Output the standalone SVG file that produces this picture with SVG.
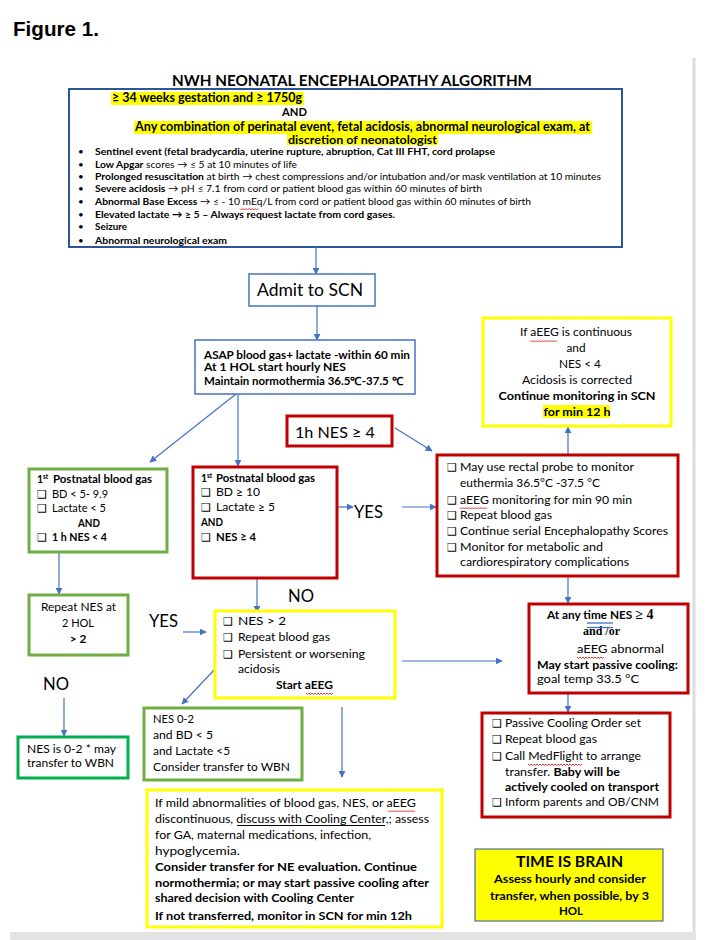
<svg xmlns="http://www.w3.org/2000/svg" width="712" height="940" viewBox="0 0 712 940">
<style>
text{font-family:Lato,'Liberation Sans',sans-serif;fill:#000}
.b{font-weight:bold}
.ar{font-family:'Liberation Sans',Arial,sans-serif}
.se{font-family:'Liberation Serif',serif}
.cb{font-family:'DejaVu Sans',sans-serif;font-size:11px;font-weight:bold}
.conn{stroke:#4472C4;stroke-width:1.2;fill:none;marker-end:url(#ah)}
.sq{stroke:#e02020;stroke-width:0.9;fill:none}
.blue{fill:#fff;stroke:#2F5597;stroke-width:2}
.lb{fill:#fff;stroke:#4472C4;stroke-width:1.5}
.red{fill:#fff;stroke:#C00000;stroke-width:3}
.grn{fill:#fff;stroke:#70AD47;stroke-width:3}
.grn2{fill:#fff;stroke:#00B050;stroke-width:3}
.yel{fill:#fff;stroke:#FFFF00;stroke-width:3}
.hl{fill:#FFFF00}
</style>
<defs>
<marker id="ah" viewBox="0 0 10 10" refX="9" refY="5" markerWidth="7" markerHeight="7" markerUnits="userSpaceOnUse" orient="auto"><path d="M0,0 L10,5 L0,10 z" fill="#4472C4"/></marker>
</defs>
<rect width="712" height="940" fill="#fff"/>
<g id="page-frame">
<rect x="692.5" y="58" width="3" height="876" fill="#dcdcdc"/>
<rect x="10" y="932" width="686" height="8" fill="#e3e3e3"/>
</g>
<text class="ar b" x="13" y="36" font-size="20" textLength="86" lengthAdjust="spacingAndGlyphs">Figure 1.</text>
<text class="b" x="172" y="85.5" font-size="14.5" textLength="360" lengthAdjust="spacingAndGlyphs">NWH NEONATAL ENCEPHALOPATHY ALGORITHM</text>

<g id="criteria">
<rect class="blue" x="69" y="89" width="553" height="158"/>
<rect class="hl" x="111" y="92" width="193" height="13"/>
<rect class="hl" x="134" y="121" width="458" height="13"/>
<rect class="hl" x="287" y="134" width="151" height="11"/>
<text class="b" x="112" y="102" font-size="12.5" textLength="190" lengthAdjust="spacingAndGlyphs">≥ 34 weeks gestation  and ≥  1750g</text>
<text class="b" x="282" y="116" font-size="12" textLength="25" lengthAdjust="spacingAndGlyphs">AND</text>
<text class="b" x="135" y="131" font-size="12.5" textLength="455" lengthAdjust="spacingAndGlyphs">Any combination of perinatal event, fetal acidosis, abnormal neurological exam, at</text>
<text class="b" x="288" y="143.5" font-size="11" textLength="149" lengthAdjust="spacingAndGlyphs">discretion of neonatologist</text>
<g font-size="9.8">
<text x="78" y="155" font-size="9.8">•</text>
<text x="78" y="167.5" font-size="9.8">•</text>
<text x="78" y="180" font-size="9.8">•</text>
<text x="78" y="192" font-size="9.8">•</text>
<text x="78" y="205" font-size="9.8">•</text>
<text x="78" y="218" font-size="9.8">•</text>
<text x="78" y="229.5" font-size="9.8">•</text>
<text x="78" y="244" font-size="9.8">•</text>
<text class="b" x="95" y="155" font-size="9.8" textLength="400" lengthAdjust="spacingAndGlyphs">Sentinel event (fetal bradycardia, uterine rupture, abruption,  Cat III FHT, cord prolapse</text>
<text x="95" y="167.5" font-size="9.8" textLength="202" lengthAdjust="spacingAndGlyphs"><tspan class="b">Low Apgar</tspan> scores → ≤ 5 at 10 minutes of life</text>
<text x="95" y="180" font-size="9.8" textLength="506" lengthAdjust="spacingAndGlyphs"><tspan class="b">Prolonged resuscitation</tspan> at birth → chest compressions and/or intubation and/or mask ventilation at 10 minutes</text>
<text x="95" y="192" font-size="9.8" textLength="387" lengthAdjust="spacingAndGlyphs"><tspan class="b">Severe acidosis</tspan> → pH ≤ 7.1 from cord  or patient blood gas  within 60 minutes of birth</text>
<text x="95" y="205" font-size="9.8" textLength="436" lengthAdjust="spacingAndGlyphs"><tspan class="b">Abnormal Base Excess</tspan> → ≤ - 10 mEq/L from cord  or patient blood gas within 60 minutes of birth</text>
<text class="b" x="95" y="218" font-size="9.8" textLength="300" lengthAdjust="spacingAndGlyphs">Elevated lactate  → ≥ 5 – Always request lactate from cord gases.</text>
<text class="b" x="95" y="229.5" font-size="9.8" textLength="32" lengthAdjust="spacingAndGlyphs">Seizure</text>
<text class="b" x="95" y="244" font-size="9.8" textLength="132" lengthAdjust="spacingAndGlyphs">Abnormal neurological exam</text>
</g>
<path class="sq" d="M240,208.5 l1.5,1.5 l1.5,-1.5 l1.5,1.5 l1.5,-1.5 l1.5,1.5 l1.5,-1.5 l1.5,1.5 l1.5,-1.5 l1.5,1.5 l1.5,-1.5 l1.5,1.5 l1.5,-1.5"/>
</g>

<g id="connectors">
<line class="conn" x1="316" y1="247" x2="316" y2="274"/>
<line class="conn" x1="317" y1="306" x2="317" y2="340"/>
<line class="conn" x1="236" y1="394" x2="150" y2="462"/>
<line class="conn" x1="238" y1="394" x2="238" y2="466"/>
<line class="conn" x1="395" y1="428" x2="432" y2="451"/>
<line class="conn" x1="328" y1="507" x2="353" y2="507"/>
<line class="conn" x1="402" y1="507" x2="436" y2="507"/>
<line class="conn" x1="568" y1="455" x2="568" y2="427"/>
<line class="conn" x1="568" y1="577" x2="568" y2="603"/>
<line class="conn" x1="59" y1="553" x2="59" y2="594"/>
<line class="conn" x1="183" y1="632" x2="206" y2="632"/>
<line class="conn" x1="257" y1="578" x2="257" y2="612"/>
<line class="conn" x1="402" y1="661" x2="502" y2="661"/>
<line class="conn" x1="215" y1="669" x2="182" y2="704"/>
<line class="conn" x1="64" y1="698" x2="64" y2="736"/>
<line class="conn" x1="342" y1="707" x2="342" y2="777"/>
<line class="conn" x1="568" y1="694" x2="568" y2="712"/>
</g>

<g id="admit">
<rect class="lb" x="249" y="274" width="126" height="32"/>
<text x="257" y="295.5" font-size="18" textLength="106" lengthAdjust="spacingAndGlyphs">Admit to SCN</text>
</g>

<g id="asap">
<rect class="lb" x="195" y="340" width="220" height="54"/>
<text class="b" x="204" y="359" font-size="11" textLength="206" lengthAdjust="spacingAndGlyphs">ASAP blood gas+ lactate -within 60 min</text>
<text class="b" x="204" y="371" font-size="11" textLength="142" lengthAdjust="spacingAndGlyphs">At 1 HOL start  hourly NES</text>
<text class="b" x="204" y="385" font-size="11" textLength="199" lengthAdjust="spacingAndGlyphs">Maintain normothermia 36.5℃-37.5 ℃</text>
</g>

<g id="continue-monitoring">
<rect class="yel" x="483" y="318" width="188" height="108"/>
<rect class="hl" x="543" y="405" width="67" height="13"/>
<g font-size="11.8" text-anchor="middle">
<text x="576" y="336" textLength="112" lengthAdjust="spacingAndGlyphs">If aEEG is continuous</text>
<text x="576" y="352">and</text>
<text x="580" y="368">NES  &lt; 4</text>
<text x="577" y="384" textLength="110" lengthAdjust="spacingAndGlyphs">Acidosis is corrected</text>
<text class="b" x="577" y="400" textLength="157" lengthAdjust="spacingAndGlyphs">Continue  monitoring in SCN</text>
<text class="b" x="577" y="415.5" textLength="67" lengthAdjust="spacingAndGlyphs">for min 12 h</text>
</g>
<path class="sq" d="M530,340.5 l1.5,1.5 l1.5,-1.5 l1.5,1.5 l1.5,-1.5 l1.5,1.5 l1.5,-1.5 l1.5,1.5 l1.5,-1.5 l1.5,1.5 l1.5,-1.5 l1.5,1.5 l1.5,-1.5 l1.5,1.5 l1.5,-1.5 l1.5,1.5 l1.5,-1.5 l1.5,1.5 l1.5,-1.5"/>
</g>

<g id="nes-1h">
<rect class="red" x="287" y="416" width="105" height="30"/>
<text x="295" y="437.5" font-size="16" textLength="80" lengthAdjust="spacingAndGlyphs">1h NES ≥ 4</text>
</g>

<g id="gas-normal">
<rect class="grn" x="29" y="469" width="138" height="83"/>
<text class="b" x="37" y="483" font-size="10.5">1</text><text class="b" x="43" y="479" font-size="6.5">st</text>
<text class="b" x="53" y="483" font-size="10.5" textLength="99" lengthAdjust="spacingAndGlyphs">Postnatal blood gas</text>
<text class="cb" x="37" y="498">❑</text>
<text x="52" y="498" font-size="10.5" textLength="56" lengthAdjust="spacingAndGlyphs">BD &lt;  5- 9.9</text>
<text class="cb" x="37" y="512">❑</text>
<text x="52" y="512" font-size="10.5" textLength="54" lengthAdjust="spacingAndGlyphs">Lactate &lt; 5</text>
<text class="b" x="78" y="527" font-size="10.5" textLength="22" lengthAdjust="spacingAndGlyphs">AND</text>
<text class="cb" x="37" y="541">❑</text>
<text class="b" x="52" y="541" font-size="10.5" textLength="55" lengthAdjust="spacingAndGlyphs">1 h NES &lt; 4</text>
</g>

<g id="gas-abnormal">
<rect class="red" x="193" y="467" width="144" height="111"/>
<text class="b" x="201" y="482" font-size="10.5">1</text><text class="b" x="207" y="478" font-size="6.5">st</text>
<text class="b" x="216" y="482" font-size="10.5" textLength="99" lengthAdjust="spacingAndGlyphs">Postnatal blood gas</text>
<text class="cb" x="201" y="496">❑</text>
<text x="216" y="496" font-size="10.5" textLength="44" lengthAdjust="spacingAndGlyphs">BD  ≥ 10</text>
<text class="cb" x="201" y="511">❑</text>
<text x="216" y="511" font-size="10.5" textLength="59" lengthAdjust="spacingAndGlyphs">Lactate  ≥ 5</text>
<text class="b" x="201" y="526" font-size="10.5" textLength="22" lengthAdjust="spacingAndGlyphs">AND</text>
<text class="cb" x="201" y="541">❑</text>
<text class="b" x="216" y="541" font-size="10.5" textLength="40" lengthAdjust="spacingAndGlyphs">NES ≥ 4</text>
</g>

<g id="labels">
<text x="354" y="518" font-size="18" textLength="29" lengthAdjust="spacingAndGlyphs">YES</text>
<text x="288" y="602" font-size="18" textLength="26" lengthAdjust="spacingAndGlyphs">NO</text>
<text x="149" y="627" font-size="18" textLength="29" lengthAdjust="spacingAndGlyphs">YES</text>
<text x="43" y="690" font-size="18" textLength="26" lengthAdjust="spacingAndGlyphs">NO</text>
</g>

<g id="monitoring">
<rect class="red" x="437" y="455" width="241" height="121"/>
<g font-size="11.8">
<text class="cb" x="447" y="471">❑</text>
<text x="460" y="471" textLength="174" lengthAdjust="spacingAndGlyphs">May use rectal probe to monitor</text>
<text x="460" y="487" textLength="140" lengthAdjust="spacingAndGlyphs">euthermia 36.5°C -37.5 °C</text>
<text class="cb" x="447" y="504">❑</text>
<text x="460" y="504" textLength="172" lengthAdjust="spacingAndGlyphs">aEEG monitoring for min 90 min</text>
<text class="cb" x="447" y="519">❑</text>
<text x="460" y="519" textLength="92" lengthAdjust="spacingAndGlyphs">Repeat blood gas</text>
<text class="cb" x="447" y="535">❑</text>
<text x="460" y="535" textLength="208" lengthAdjust="spacingAndGlyphs">Continue serial Encephalopathy Scores</text>
<text class="cb" x="447" y="551">❑</text>
<text x="460" y="551" textLength="143" lengthAdjust="spacingAndGlyphs">Monitor for metabolic and</text>
<text x="460" y="566" textLength="169" lengthAdjust="spacingAndGlyphs">cardiorespiratory complications</text>
</g>
<path class="sq" d="M460,507.5 l1.5,1.5 l1.5,-1.5 l1.5,1.5 l1.5,-1.5 l1.5,1.5 l1.5,-1.5 l1.5,1.5 l1.5,-1.5 l1.5,1.5 l1.5,-1.5 l1.5,1.5 l1.5,-1.5 l1.5,1.5 l1.5,-1.5 l1.5,1.5 l1.5,-1.5 l1.5,1.5 l1.5,-1.5"/>
</g>

<g id="repeat-nes">
<rect class="grn" x="29" y="595" width="99" height="60"/>
<g font-size="11.8" text-anchor="middle">
<text x="78.5" y="611" textLength="75" lengthAdjust="spacingAndGlyphs">Repeat NES at</text>
<text x="78" y="627" textLength="32" lengthAdjust="spacingAndGlyphs">2 HOL</text>
<text class="b" x="78" y="643">&gt; 2</text>
</g>
</g>

<g id="nes-gt2">
<rect class="yel" x="215" y="611" width="180" height="87"/>
<g font-size="11.8">
<text class="cb" x="223" y="625">❑</text>
<text x="238" y="625" textLength="48" lengthAdjust="spacingAndGlyphs">NES &gt; 2</text>
<text class="cb" x="223" y="641">❑</text>
<text x="238" y="641" textLength="92" lengthAdjust="spacingAndGlyphs">Repeat blood gas</text>
<text class="cb" x="223" y="658">❑</text>
<text x="238" y="658" textLength="127" lengthAdjust="spacingAndGlyphs">Persistent or worsening</text>
<text x="238" y="673" textLength="42" lengthAdjust="spacingAndGlyphs">acidosis</text>
<text class="b" x="276" y="689" textLength="57" lengthAdjust="spacingAndGlyphs">Start aEEG</text>
</g>
<path class="sq" d="M306,693 l1.5,1.5 l1.5,-1.5 l1.5,1.5 l1.5,-1.5 l1.5,1.5 l1.5,-1.5 l1.5,1.5 l1.5,-1.5 l1.5,1.5 l1.5,-1.5 l1.5,1.5 l1.5,-1.5 l1.5,1.5 l1.5,-1.5 l1.5,1.5 l1.5,-1.5 l1.5,1.5 l1.5,-1.5"/>
</g>

<g id="any-time">
<rect class="red" x="529" y="604" width="159" height="89"/>
<text class="b" x="547" y="619" font-size="11.8">At any  time NES  <tspan class="se" font-size="14">≥ 4</tspan></text>
<text class="se b" x="583" y="635" font-size="13.5" textLength="37" lengthAdjust="spacingAndGlyphs">and /or</text>
<text x="577" y="653" font-size="11.8" textLength="87" lengthAdjust="spacingAndGlyphs">aEEG  abnormal</text>
<text class="b" x="537" y="669" font-size="11.8" textLength="141" lengthAdjust="spacingAndGlyphs">May start passive cooling:</text>
<text x="537" y="682.5" font-size="11.8" textLength="102" lengthAdjust="spacingAndGlyphs">goal temp   33.5 °C</text>
<line x1="587" y1="623" x2="613" y2="623" stroke="#4472C4" stroke-width="1.3"/>
<line x1="587" y1="627.5" x2="613" y2="627.5" stroke="#4472C4" stroke-width="1.3"/>
<path class="sq" d="M577,657 l1.5,1.5 l1.5,-1.5 l1.5,1.5 l1.5,-1.5 l1.5,1.5 l1.5,-1.5 l1.5,1.5 l1.5,-1.5 l1.5,1.5 l1.5,-1.5 l1.5,1.5 l1.5,-1.5 l1.5,1.5 l1.5,-1.5 l1.5,1.5 l1.5,-1.5 l1.5,1.5 l1.5,-1.5"/>
</g>

<g id="passive-cooling">
<rect class="red" x="482" y="713" width="188" height="104"/>
<g font-size="11.8">
<text class="cb" x="492" y="727">❑</text>
<text x="505" y="727" textLength="136" lengthAdjust="spacingAndGlyphs">Passive Cooling Order set</text>
<text class="cb" x="492" y="743">❑</text>
<text x="505" y="743" textLength="92" lengthAdjust="spacingAndGlyphs">Repeat blood gas</text>
<text class="cb" x="492" y="760">❑</text>
<text x="505" y="760" textLength="136" lengthAdjust="spacingAndGlyphs">Call MedFlight to arrange</text>
<text x="505" y="775.5" textLength="115" lengthAdjust="spacingAndGlyphs">transfer. <tspan class="b">Baby will be</tspan></text>
<text class="b" x="505" y="791" textLength="154" lengthAdjust="spacingAndGlyphs">actively cooled on transport</text>
<text class="cb" x="492" y="806">❑</text>
<text x="505" y="806" textLength="154" lengthAdjust="spacingAndGlyphs">Inform parents and OB/CNM</text>
</g>
<path class="sq" d="M528,764 l1.5,1.5 l1.5,-1.5 l1.5,1.5 l1.5,-1.5 l1.5,1.5 l1.5,-1.5 l1.5,1.5 l1.5,-1.5 l1.5,1.5 l1.5,-1.5 l1.5,1.5 l1.5,-1.5 l1.5,1.5 l1.5,-1.5 l1.5,1.5 l1.5,-1.5 l1.5,1.5 l1.5,-1.5 l1.5,1.5 l1.5,-1.5 l1.5,1.5 l1.5,-1.5 l1.5,1.5 l1.5,-1.5 l1.5,1.5 l1.5,-1.5 l1.5,1.5 l1.5,-1.5 l1.5,1.5 l1.5,-1.5 l1.5,1.5 l1.5,-1.5 l1.5,1.5 l1.5,-1.5 l1.5,1.5 l1.5,-1.5"/>
</g>

<g id="wbn-may">
<rect class="grn2" x="18" y="737" width="110" height="41"/>
<text x="27" y="753" font-size="11.8" textLength="89" lengthAdjust="spacingAndGlyphs">NES is 0-2 * may</text>
<text x="27" y="767" font-size="11.8" textLength="87" lengthAdjust="spacingAndGlyphs">transfer to WBN</text>
</g>

<g id="wbn-consider">
<rect class="grn" x="144" y="708" width="158" height="72"/>
<g font-size="11.8">
<text x="153" y="723" textLength="41" lengthAdjust="spacingAndGlyphs">NES 0-2</text>
<text x="153" y="738.5" textLength="60" lengthAdjust="spacingAndGlyphs">and  BD &lt; 5</text>
<text x="153" y="755" textLength="77" lengthAdjust="spacingAndGlyphs">and Lactate &lt;5</text>
<text x="153" y="770.5" textLength="137" lengthAdjust="spacingAndGlyphs">Consider transfer to WBN</text>
</g>
</g>

<g id="mild-abnormal">
<rect class="yel" x="147" y="790" width="295" height="137"/>
<g font-size="11.8">
<text x="155" y="807" textLength="261" lengthAdjust="spacingAndGlyphs">If mild abnormalities of blood gas,  NES, or aEEG</text>
<text x="155" y="822.5" textLength="274" lengthAdjust="spacingAndGlyphs">discontinuous, discuss with Cooling Center,; assess</text>
<text x="155" y="839" textLength="216" lengthAdjust="spacingAndGlyphs">for GA, maternal medications, infection,</text>
<text x="155" y="855" textLength="85" lengthAdjust="spacingAndGlyphs">hypoglycemia.</text>
<text class="b" x="155" y="871" textLength="262" lengthAdjust="spacingAndGlyphs">Consider transfer for NE evaluation. Continue</text>
<text class="b" x="155" y="887" textLength="274" lengthAdjust="spacingAndGlyphs">normothermia; or may  start passive cooling after</text>
<text class="b" x="155" y="901.5" textLength="199" lengthAdjust="spacingAndGlyphs">shared decision with Cooling Center</text>
<text class="b" x="155" y="919.5" textLength="257" lengthAdjust="spacingAndGlyphs">If not transferred,  monitor in SCN for min 12h</text>
</g>
<line x1="237" y1="825.5" x2="385" y2="825.5" stroke="#000" stroke-width="1"/>
<path class="sq" d="M388,810.5 l1.5,1.5 l1.5,-1.5 l1.5,1.5 l1.5,-1.5 l1.5,1.5 l1.5,-1.5 l1.5,1.5 l1.5,-1.5 l1.5,1.5 l1.5,-1.5 l1.5,1.5 l1.5,-1.5 l1.5,1.5 l1.5,-1.5 l1.5,1.5 l1.5,-1.5 l1.5,1.5 l1.5,-1.5"/>
</g>

<g id="time-is-brain">
<rect x="475" y="849" width="188" height="72" fill="#FFFF00" stroke="#2F5597" stroke-width="1"/>
<g class="b" text-anchor="middle">
<text class="b" x="569.5" y="866.5" font-size="15.5" textLength="107" lengthAdjust="spacingAndGlyphs">TIME IS BRAIN</text>
<text class="b" x="570" y="883" font-size="11.5" textLength="152" lengthAdjust="spacingAndGlyphs">Assess hourly and  consider</text>
<text class="b" x="569.5" y="900" font-size="11.5" textLength="159" lengthAdjust="spacingAndGlyphs">transfer, when possible, by 3</text>
<text class="b" x="571" y="915" font-size="11.5">HOL</text>
</g>
</g>
</svg>
